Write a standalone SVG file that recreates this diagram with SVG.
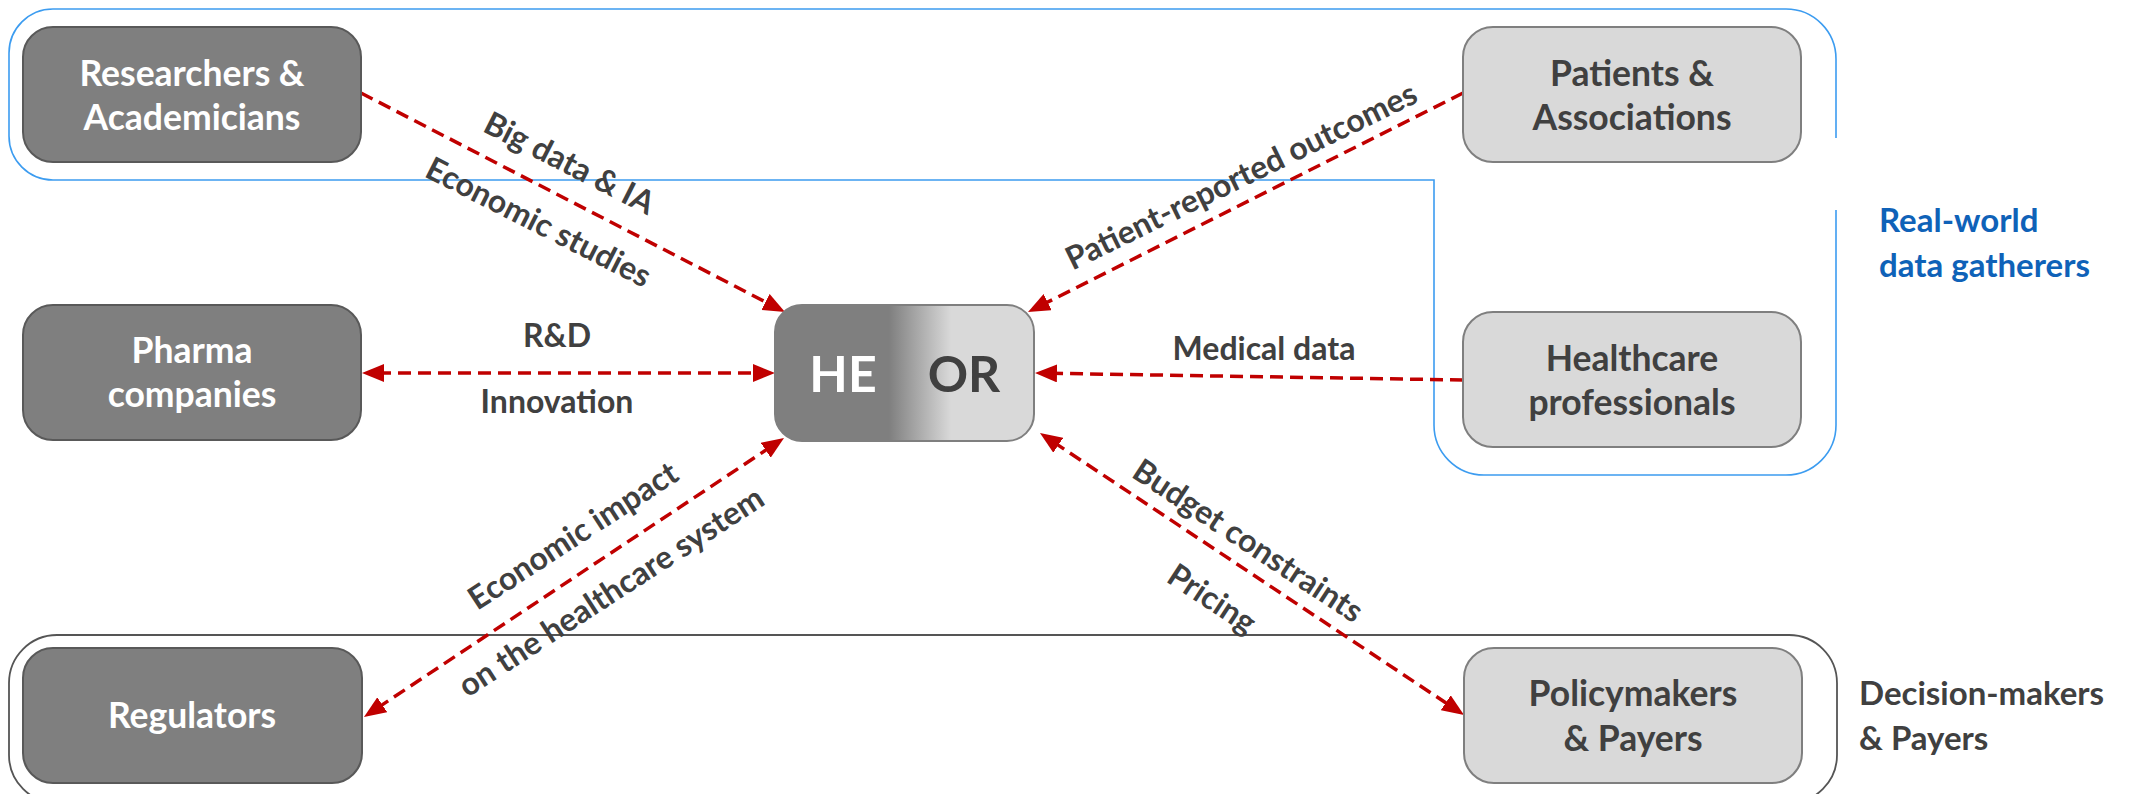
<svg xmlns="http://www.w3.org/2000/svg" width="2136" height="794" viewBox="0 0 2136 794">
  <style>
    .dark { fill: #7f7f7f; stroke: #595959; stroke-width: 2; }
    .light { fill: #d9d9d9; stroke: #7f7f7f; stroke-width: 2; }
    .t { font-family: Lato, "Open Sans", sans-serif; font-weight: bold; }
    .nw { font-size: 35.5px; fill: #ffffff; text-anchor: middle; }
    .nd { font-size: 35.5px; fill: #404040; text-anchor: middle; }
    .lbl { font-size: 32px; fill: #404040; text-anchor: middle; }
    .grp { font-size: 33px; }
    .conn { fill: none; stroke: #c00000; stroke-width: 3.5; stroke-dasharray: 13 7; }
  </style>
  <defs>
    <marker id="ah" markerUnits="userSpaceOnUse" markerWidth="22" markerHeight="18" refX="6" refY="9" orient="auto-start-reverse">
      <path d="M0,0 L22,9 L0,18 z" fill="#c00000"/>
    </marker>
    <linearGradient id="heor" x1="0" y1="0" x2="1" y2="0">
      <stop offset="0" stop-color="#7f7f7f"/>
      <stop offset="0.44" stop-color="#7f7f7f"/>
      <stop offset="0.68" stop-color="#d9d9d9"/>
      <stop offset="1" stop-color="#d9d9d9"/>
    </linearGradient>
  </defs>

  <g id="group-real-world">
    <path d="M1836,138 L1836,59 A50,50 0 0 0 1786,9 L53,9 A44,44 0 0 0 9,53 L9,136 A44,44 0 0 0 53,180 L1434,180 L1434,425 A50,50 0 0 0 1484,475 L1786,475 A50,50 0 0 0 1836,425 L1836,210" fill="none" stroke="#3c9cf0" stroke-width="1.6"/>
    <text class="t grp" x="1879" y="232" fill="#0f62b8">Real-world</text>
    <text class="t grp" x="1879" y="277" fill="#0f62b8">data gatherers</text>
  </g>

  <g id="group-decision-makers">
    <rect x="9" y="635" width="1828" height="168" rx="48" ry="48" fill="none" stroke="#555555" stroke-width="1.8"/>
    <text class="t grp" x="1859" y="705" fill="#404040">Decision-makers</text>
    <text class="t grp" x="1859" y="750" fill="#404040">&amp; Payers</text>
  </g>

  <g id="connectors">
    <line class="conn" x1="361" y1="93" x2="770.8" y2="304.7" marker-end="url(#ah)"/>
    <line class="conn" x1="378" y1="373" x2="759" y2="373" marker-start="url(#ah)" marker-end="url(#ah)"/>
    <line class="conn" x1="377.3" y1="708.1" x2="770.7" y2="446.9" marker-start="url(#ah)" marker-end="url(#ah)"/>
    <line class="conn" x1="1463" y1="93" x2="1042.3" y2="304.8" marker-end="url(#ah)"/>
    <line class="conn" x1="1463" y1="380" x2="1051" y2="373.3" marker-end="url(#ah)"/>
    <line class="conn" x1="1053.3" y1="441.9" x2="1450.7" y2="706.1" marker-start="url(#ah)" marker-end="url(#ah)"/>

    <text class="t lbl" transform="translate(564.5,173) rotate(27)">Big data &amp; IA</text>
    <text class="t lbl" transform="translate(533.5,232) rotate(27)">Economic studies</text>
    <text class="t lbl" x="557" y="347">R&amp;D</text>
    <text class="t lbl" x="557" y="413">Innovation</text>
    <text class="t lbl" transform="translate(579,545) rotate(-33)">Economic impact</text>
    <text class="t lbl" transform="translate(617,601) rotate(-33)">on the healthcare system</text>
    <text class="t lbl" transform="translate(1246,186) rotate(-26)">Patient-reported outcomes</text>
    <text class="t lbl" x="1264" y="360">Medical data</text>
    <text class="t lbl" transform="translate(1242,550) rotate(33.4)">Budget constraints</text>
    <text class="t lbl" transform="translate(1206,608) rotate(33.4)">Pricing</text>
  </g>

  <g id="node-researchers">
    <rect class="dark" x="23" y="27" width="338" height="135" rx="30" ry="30"/>
    <text class="t nw" x="192" y="86">Researchers &amp;</text>
    <text class="t nw" x="192" y="130">Academicians</text>
  </g>

  <g id="node-pharma">
    <rect class="dark" x="23" y="305" width="338" height="135" rx="30" ry="30"/>
    <text class="t nw" x="192" y="363">Pharma</text>
    <text class="t nw" x="192" y="407">companies</text>
  </g>

  <g id="node-regulators">
    <rect class="dark" x="23" y="648" width="339" height="135" rx="30" ry="30"/>
    <text class="t nw" x="192" y="728">Regulators</text>
  </g>

  <g id="node-heor">
    <rect x="775" y="305" width="259" height="136" rx="27" ry="27" fill="url(#heor)" stroke="#7f7f7f" stroke-width="2"/>
    <text class="t" x="843" y="392" font-size="50" fill="#ffffff" text-anchor="middle">HE</text>
    <text class="t" x="964" y="392" font-size="50" fill="#404040" text-anchor="middle">OR</text>
  </g>

  <g id="node-patients">
    <rect class="light" x="1463" y="27" width="338" height="135" rx="30" ry="30"/>
    <text class="t nd" x="1632" y="86">Patients &amp;</text>
    <text class="t nd" x="1632" y="130">Associations</text>
  </g>

  <g id="node-healthcare">
    <rect class="light" x="1463" y="312" width="338" height="135" rx="30" ry="30"/>
    <text class="t nd" x="1632" y="371">Healthcare</text>
    <text class="t nd" x="1632" y="415">professionals</text>
  </g>

  <g id="node-policymakers">
    <rect class="light" x="1464" y="648" width="338" height="135" rx="30" ry="30"/>
    <text class="t nd" x="1633" y="706">Policymakers</text>
    <text class="t nd" x="1633" y="751">&amp; Payers</text>
  </g>
</svg>
